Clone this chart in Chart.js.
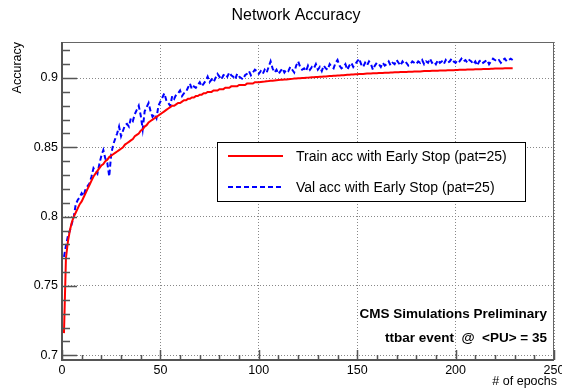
<!DOCTYPE html>
<html>
<head>
<meta charset="utf-8">
<script src="https://cdn.jsdelivr.net/npm/chart.js@4.4.1/dist/chart.umd.min.js"></script>
<style>
  html, body { margin: 0; padding: 0; background: #fff; }
  #wrap { width: 562px; height: 391px; }
</style>
</head>
<body>
<div id="wrap"><canvas id="chart" width="562" height="391"></canvas></div>
<script>
// values
const trainAcc = [
  0.716, 0.770, 0.782, 0.790, 0.796, 0.800, 0.803, 0.806, 0.809, 0.811,
  0.814, 0.817, 0.820, 0.823, 0.826, 0.829, 0.831, 0.833, 0.835, 0.837,
  0.838, 0.840, 0.841, 0.843, 0.844, 0.845, 0.846, 0.847, 0.848, 0.849,
  0.850, 0.852, 0.853, 0.854, 0.855, 0.856, 0.858, 0.859, 0.860, 0.862,
  0.863, 0.865, 0.866, 0.868, 0.869, 0.870, 0.871, 0.872, 0.873, 0.874,
  0.875, 0.876, 0.877, 0.878, 0.879, 0.880, 0.880, 0.881, 0.882, 0.882,
  0.883, 0.884, 0.884, 0.885, 0.885, 0.886, 0.886, 0.887, 0.887, 0.888,
  0.888, 0.889, 0.889, 0.890, 0.890, 0.890, 0.891, 0.891, 0.891, 0.892,
  0.892, 0.892, 0.893, 0.893, 0.893, 0.894, 0.894, 0.894, 0.894, 0.895,
  0.895, 0.895, 0.895, 0.896, 0.896, 0.896, 0.896, 0.897, 0.897, 0.897,
  0.8972, 0.8974, 0.8975, 0.8977, 0.8978, 0.8980, 0.8981, 0.8983, 0.8984, 0.8985,
  0.8987, 0.8988, 0.8989, 0.8990, 0.8992, 0.8993, 0.8994, 0.8996, 0.8997, 0.8998,
  0.8999, 0.9000, 0.9001, 0.9002, 0.9003, 0.9004, 0.9005, 0.9006, 0.9007, 0.9008,
  0.9009, 0.9010, 0.9011, 0.9012, 0.9013, 0.9014, 0.9015, 0.9016, 0.9017, 0.9018,
  0.9019, 0.9020, 0.9021, 0.9022, 0.9023, 0.9024, 0.9025, 0.9026, 0.9027, 0.9028,
  0.9029, 0.9030, 0.9030, 0.9031, 0.9032, 0.9033, 0.9033, 0.9034, 0.9035, 0.9035,
  0.9036, 0.9037, 0.9037, 0.9038, 0.9039, 0.9039, 0.9040, 0.9040, 0.9041, 0.9042,
  0.9042, 0.9043, 0.9043, 0.9044, 0.9044, 0.9045, 0.9046, 0.9046, 0.9047, 0.9047,
  0.9048, 0.9048, 0.9049, 0.9050, 0.9050, 0.9051, 0.9051, 0.9052, 0.9052, 0.9053,
  0.9053, 0.9054, 0.9054, 0.9055, 0.9055, 0.9056, 0.9056, 0.9057, 0.9057, 0.9058,
  0.9058, 0.9059, 0.9059, 0.9060, 0.9060, 0.9061, 0.9061, 0.9062, 0.9062, 0.9063,
  0.9063, 0.9064, 0.9064, 0.9065, 0.9065, 0.9066, 0.9066, 0.9067, 0.9067, 0.9068,
  0.9068, 0.9068, 0.9069, 0.9069, 0.9070, 0.9070, 0.9070, 0.9071, 0.9071
];
const valAcc = [
  0.771, 0.779, 0.786, 0.790, 0.795, 0.800, 0.809, 0.812, 0.814, 0.817,
  0.815, 0.820, 0.822, 0.824, 0.829, 0.835, 0.833, 0.831, 0.838, 0.844,
  0.848, 0.842, 0.839, 0.829, 0.845, 0.852, 0.856, 0.860, 0.865, 0.858,
  0.862, 0.866, 0.867, 0.865, 0.871, 0.869, 0.874, 0.877, 0.880, 0.873,
  0.863, 0.876, 0.879, 0.882, 0.876, 0.872, 0.874, 0.871, 0.880, 0.883,
  0.886, 0.889, 0.884, 0.882, 0.880, 0.887, 0.885, 0.888, 0.889, 0.891,
  0.887, 0.889, 0.890, 0.893, 0.896, 0.892, 0.894, 0.893, 0.895, 0.897,
  0.894, 0.896, 0.898, 0.901, 0.897, 0.899, 0.897, 0.900, 0.903, 0.901,
  0.899, 0.902, 0.903, 0.901, 0.904, 0.902, 0.901, 0.899, 0.903, 0.901,
  0.900, 0.899, 0.902, 0.903, 0.905, 0.902, 0.904, 0.906, 0.905, 0.903,
  0.905, 0.903, 0.906, 0.904, 0.908, 0.912, 0.907, 0.904, 0.906, 0.903,
  0.905, 0.907, 0.904, 0.906, 0.905, 0.908, 0.906, 0.904, 0.909, 0.912,
  0.908, 0.906, 0.907, 0.905, 0.909, 0.906, 0.908, 0.907, 0.910, 0.906,
  0.908, 0.905, 0.909, 0.907, 0.906, 0.910, 0.908, 0.907, 0.911, 0.913,
  0.909, 0.907, 0.908, 0.910, 0.906, 0.909, 0.911, 0.908, 0.910, 0.912,
  0.914, 0.910, 0.908, 0.911, 0.909, 0.912, 0.910, 0.906, 0.909, 0.911,
  0.910, 0.908, 0.911, 0.909, 0.910, 0.912, 0.909, 0.911, 0.910, 0.913,
  0.911, 0.909, 0.912, 0.910, 0.911, 0.909, 0.910, 0.912, 0.911, 0.910,
  0.912, 0.911, 0.913, 0.910, 0.912, 0.911, 0.914, 0.911, 0.912, 0.910,
  0.913, 0.911, 0.912, 0.910, 0.913, 0.911, 0.912, 0.914, 0.912, 0.911,
  0.913, 0.912, 0.914, 0.912, 0.913, 0.911, 0.913, 0.912, 0.910, 0.912,
  0.909, 0.912, 0.913, 0.911, 0.912, 0.913, 0.910, 0.912, 0.914, 0.913,
  0.912, 0.913, 0.911, 0.913, 0.914, 0.912, 0.913, 0.914, 0.913
];
const seriesLabels = ["Train acc with Early Stop (pat=25)", "Val acc with Early Stop (pat=25)"];
const xTicks = [0, 50, 100, 150, 200, 250];
const yTicks = [0.7, 0.75, 0.8, 0.85, 0.9];
const yTickLabels = ["0.7", "0.75", "0.8", "0.85", "0.9"];

const FONT = '"Liberation Sans", Arial, Helvetica, sans-serif';

function toPoints(arr) {
  return arr.map((v, i) => ({ x: i + 1, y: v }));
}

// ROOT-like frame, inward ticks, labels, legend and annotations
const rootStyle = {
  id: 'rootStyle',
  afterDatasetsDraw(chart) {
    const { ctx, chartArea: a, scales } = chart;
    const x = scales.x, y = scales.y;
    ctx.save();

    // frame
    ctx.strokeStyle = '#666';
    ctx.lineWidth = 1;
    ctx.strokeRect(a.left + 0.5, a.top + 0.5, a.right - a.left - 1, a.bottom - a.top - 1);
    ctx.strokeStyle = '#555';
    ctx.lineWidth = 2;
    ctx.beginPath();
    ctx.moveTo(a.left, a.top); ctx.lineTo(a.left, a.bottom); ctx.lineTo(a.right, a.bottom);
    ctx.stroke();

    // y ticks (inward)
    ctx.lineWidth = 1.5;
    ctx.beginPath();
    for (let k = 69; k <= 92; k++) {
      const py = Math.round(y.getPixelForValue(k / 100)) + 0.5;
      if (py < a.top || py > a.bottom) continue;
      const len = k % 5 === 0 ? 15 : 8;
      ctx.moveTo(a.left, py); ctx.lineTo(a.left + len, py);
    }
    // x ticks (inward)
    for (let k = 0; k <= 250; k += 10) {
      const px = Math.round(x.getPixelForValue(k)) + 0.5;
      const len = k % 50 === 0 ? 10 : 5;
      ctx.moveTo(px, a.bottom); ctx.lineTo(px, a.bottom - len);
    }
    ctx.stroke();

    // tick labels
    ctx.fillStyle = '#000';
    ctx.font = '12.5px ' + FONT;
    ctx.textAlign = 'right';
    ctx.textBaseline = 'middle';
    yTicks.forEach((v, i) => ctx.fillText(yTickLabels[i], a.left - 4, y.getPixelForValue(v)));
    ctx.textAlign = 'center';
    ctx.textBaseline = 'top';
    xTicks.forEach(v => ctx.fillText(String(v), x.getPixelForValue(v), a.bottom + 4));

    // axis titles
    ctx.textAlign = 'right';
    ctx.textBaseline = 'alphabetic';
    ctx.fillText('# of epochs', 557, 385);
    ctx.save();
    ctx.translate(21, a.top);
    ctx.rotate(-Math.PI / 2);
    ctx.textAlign = 'right';
    ctx.fillText('Accuracy', 0, 0);
    ctx.restore();

    // title
    ctx.font = '16px ' + FONT;
    ctx.textAlign = 'center';
    ctx.textBaseline = 'middle';
    ctx.fillText('Network Accuracy', 296, 16);

    // legend
    const lx = 217.5, ly = 142.5, lw = 308, lh = 59;
    ctx.fillStyle = '#fff';
    ctx.fillRect(lx, ly, lw, lh);
    ctx.strokeStyle = '#000';
    ctx.lineWidth = 1;
    ctx.strokeRect(lx, ly, lw, lh);
    const ds = chart.data.datasets;
    const rows = [156, 187];
    ctx.font = '14px ' + FONT;
    ctx.textAlign = 'left';
    ctx.textBaseline = 'middle';
    ds.forEach((d, i) => {
      ctx.strokeStyle = d.borderColor;
      ctx.lineWidth = d.borderWidth;
      ctx.setLineDash(d.borderDash || []);
      ctx.beginPath();
      ctx.moveTo(228, rows[i]); ctx.lineTo(283, rows[i]);
      ctx.stroke();
      ctx.setLineDash([]);
      ctx.fillStyle = '#000';
      ctx.fillText(d.label, 296, rows[i] + 1);
    });

    // annotation
    ctx.font = 'bold 13.5px ' + FONT;
    ctx.textAlign = 'right';
    ctx.fillText('CMS Simulations Preliminary', 547, 314);
    ctx.fillText('ttbar event  @  <PU> = 35', 547, 338);

    ctx.restore();
  }
};

new Chart(document.getElementById('chart'), {
  type: 'line',
  data: {
    datasets: [
      {
        label: seriesLabels[0],
        data: toPoints(trainAcc),
        borderColor: '#ff0000',
        borderWidth: 2,
        pointRadius: 0,
        tension: 0,
        order: 1
      },
      {
        label: seriesLabels[1],
        data: toPoints(valAcc),
        borderColor: '#0000ff',
        borderWidth: 2,
        borderDash: [5, 3],
        pointRadius: 0,
        tension: 0,
        order: 2
      }
    ]
  },
  options: {
    responsive: false,
    animation: false,
    layout: { padding: { left: 62, right: 8, top: 42, bottom: 31 } },
    plugins: { legend: { display: false }, tooltip: { enabled: false }, title: { display: false } },
    scales: {
      x: {
        type: 'linear',
        min: 0,
        max: 250,
        afterBuildTicks: s => { s.ticks = xTicks.map(v => ({ value: v })); },
        afterFit: s => { s.height = 0; },
        ticks: { display: false },
        grid: { color: '#888', lineWidth: 1, drawTicks: false },
        border: { display: false, dash: [1, 2] }
      },
      y: {
        type: 'linear',
        min: 0.6966,
        max: 0.926,
        afterBuildTicks: s => { s.ticks = yTicks.map(v => ({ value: v })); },
        afterFit: s => { s.width = 0; },
        ticks: { display: false },
        grid: { color: '#888', lineWidth: 1, drawTicks: false },
        border: { display: false, dash: [1, 2] }
      }
    }
  },
  plugins: [rootStyle]
});
</script>
</body>
</html>
